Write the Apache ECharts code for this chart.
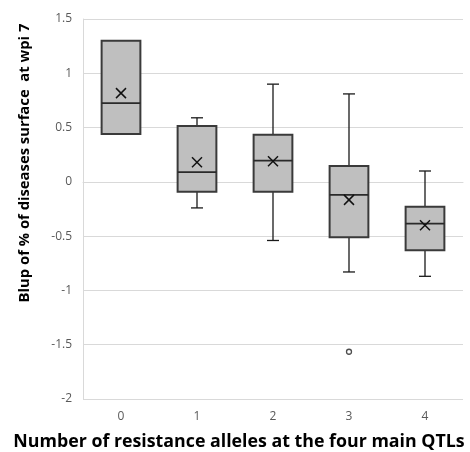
<!DOCTYPE html>
<html>
<head>
<meta charset="utf-8">
<script src="https://cdn.jsdelivr.net/npm/echarts@6/dist/echarts.min.js"></script>
<style>html,body{margin:0;padding:0;background:#fff;}#c{width:470px;height:452px;}</style>
</head>
<body>
<div id="c"></div>
<script>
const categories = ['0', '1', '2', '3', '4'];
const whiskerLow = [0.44, -0.24, -0.54, -0.83, -0.87];
const q1 = [0.44, -0.09, -0.09, -0.51, -0.63];
const median = [0.725, 0.09, 0.196, -0.12, -0.385];
const q3 = [1.30, 0.515, 0.433, 0.147, -0.23];
const whiskerHigh = [1.30, 0.59, 0.90, 0.81, 0.10];
const means = [0.817, 0.18, 0.19, -0.166, -0.40];
const outliers = [[3, -1.565]];
const yTicks = [-2, -1.5, -1, -0.5, 0, 0.5, 1, 1.5];

const boxData = categories.map((c, i) => [i, whiskerLow[i], q1[i], median[i], q3[i], whiskerHigh[i], means[i]]);

const chart = echarts.init(document.getElementById('c'), null, {renderer: 'canvas'});

function renderBox(params, api) {
  const i = api.value(0);
  const bw = api.size([1, 0])[0];
  const boxW = bw * 0.51;
  const capW = 12;
  const pLow = api.coord([i, api.value(1)]);
  const pQ1 = api.coord([i, api.value(2)]);
  const pMed = api.coord([i, api.value(3)]);
  const pQ3 = api.coord([i, api.value(4)]);
  const pHigh = api.coord([i, api.value(5)]);
  const pMean = api.coord([i, api.value(6)]);
  const cx = pMed[0];
  const wStyle = {stroke: '#1a1a1a', lineWidth: 1.3};
  const children = [];
  if (pHigh[1] < pQ3[1] - 0.5) {
    children.push({type: 'line', shape: {x1: cx, y1: pHigh[1], x2: cx, y2: pQ3[1]}, style: wStyle});
    children.push({type: 'line', shape: {x1: cx - capW / 2, y1: pHigh[1], x2: cx + capW / 2, y2: pHigh[1]}, style: wStyle});
  }
  if (pLow[1] > pQ1[1] + 0.5) {
    children.push({type: 'line', shape: {x1: cx, y1: pQ1[1], x2: cx, y2: pLow[1]}, style: wStyle});
    children.push({type: 'line', shape: {x1: cx - capW / 2, y1: pLow[1], x2: cx + capW / 2, y2: pLow[1]}, style: wStyle});
  }
  children.push({type: 'rect', shape: {x: cx - boxW / 2, y: pQ3[1], width: boxW, height: pQ1[1] - pQ3[1]},
    style: {fill: '#bfbfbf', stroke: '#3a3a3a', lineWidth: 2}});
  children.push({type: 'line', shape: {x1: cx - boxW / 2, y1: pMed[1], x2: cx + boxW / 2, y2: pMed[1]},
    style: {stroke: '#2a2a2a', lineWidth: 1.6}});
  const m = 5;
  children.push({type: 'line', shape: {x1: pMean[0] - m, y1: pMean[1] - m, x2: pMean[0] + m, y2: pMean[1] + m},
    style: {stroke: '#111', lineWidth: 1.5}});
  children.push({type: 'line', shape: {x1: pMean[0] - m, y1: pMean[1] + m, x2: pMean[0] + m, y2: pMean[1] - m},
    style: {stroke: '#111', lineWidth: 1.5}});
  return {type: 'group', children: children};
}

chart.setOption({
  animation: false,
  backgroundColor: '#ffffff',
  grid: {left: 83, right: 7, top: 19, bottom: 53, containLabel: false},
  xAxis: {
    type: 'category',
    data: categories,
    boundaryGap: true,
    axisLine: {show: true, lineStyle: {color: '#d9d9d9', width: 1}},
    axisTick: {show: false},
    axisLabel: {color: '#595959', fontSize: 12, fontFamily: 'Open Sans', margin: 12},
    splitLine: {show: false}
  },
  yAxis: {
    type: 'value',
    min: -2, max: 1.5, interval: 0.5,
    axisLine: {show: true, lineStyle: {color: '#d9d9d9', width: 1}},
    axisTick: {show: false},
    axisLabel: {color: '#595959', fontSize: 12, fontFamily: 'Open Sans', margin: 11},
    splitLine: {show: true, lineStyle: {color: '#d9d9d9', width: 1}}
  },
  graphic: [
    {type: 'text', x: 239, y: 442, style: {
      text: 'Number of resistance alleles at the four main QTLs',
      font: 'bold 17.8px "Open Sans"', fill: '#000', textAlign: 'center', textVerticalAlign: 'middle',
      x: 0, y: 0}},
    {type: 'text', rotation: Math.PI / 2, x: 25, y: 163, style: {
      text: 'Blup of % of diseases surface  at wpi 7',
      font: 'bold 14.8px "Open Sans"', fill: '#000', textAlign: 'center', textVerticalAlign: 'middle',
      x: 0, y: 0}}
  ],
  series: [
    {type: 'custom', renderItem: renderBox, data: boxData, z: 3},
    {type: 'scatter', data: outliers, symbol: 'circle', symbolSize: 5,
      itemStyle: {color: '#ffffff', borderColor: '#222', borderWidth: 1.3}, z: 4}
  ]
});
</script>
</body>
</html>
